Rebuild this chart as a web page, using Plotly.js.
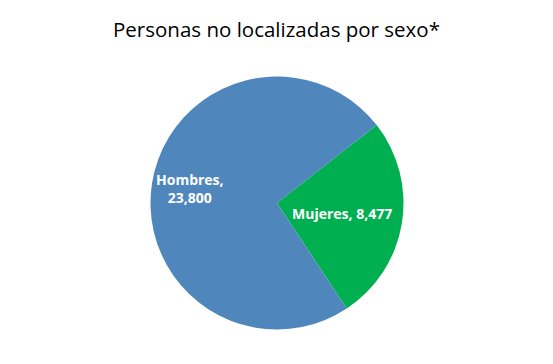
<!DOCTYPE html>
<html>
<head>
<meta charset="utf-8">
<script src="https://cdn.plot.ly/plotly-3.0.1.min.js"></script>
<style>html,body{margin:0;padding:0;background:#fff;}#chart{width:553px;height:364px;}</style>
</head>
<body>
<div id="chart"></div>
<script>
const categories = ["Mujeres", "Hombres"];
const values = [8477, 23800];
const labelText = ["Mujeres, 8,477", "Hombres,<br>23,800"];
const colors = ["#00B050", "#4F87BD"];

const W = 553, H = 364, cx = 277, cy = 203, R = 126.5;
const rotation = 52;
const labelRadius = [0.52, 0.70];

// label positions along each slice's bisector, from the data
const total = values.reduce((a, b) => a + b, 0);
let start = rotation;
const annotations = values.map((v, i) => {
  const span = v / total * 360;
  const mid = (start + span / 2) * Math.PI / 180;
  start += span;
  const r = R * labelRadius[i];
  const px = cx + r * Math.sin(mid);
  const py = cy - r * Math.cos(mid);
  return {
    text: labelText[i], x: px / W, y: 1 - py / H, xref: "paper", yref: "paper",
    xanchor: "center", yanchor: "middle", showarrow: false, align: "center",
    font: {family: "Open Sans, Arial, sans-serif", size: 14, color: "#ffffff", weight: "bold"}
  };
});

Plotly.newPlot("chart", [{
  type: "pie",
  labels: categories,
  values: values,
  textinfo: "none",
  sort: false,
  direction: "clockwise",
  rotation: rotation,
  marker: {colors: colors, line: {color: "#ffffff", width: 0}},
  hoverinfo: "none",
  domain: {x: [(cx - R) / W, (cx + R) / W], y: [(H - cy - R) / H, (H - cy + R) / H]}
}], {
  width: W, height: H,
  margin: {l: 0, r: 0, t: 0, b: 0},
  showlegend: false,
  paper_bgcolor: "#ffffff",
  annotations: annotations,
  title: {
    text: "Personas no localizadas por sexo*",
    font: {family: "Open Sans, Arial, sans-serif", size: 20.5, color: "#000000"},
    x: 0.5, xanchor: "center", xref: "paper",
    y: 1 - 30 / H, yanchor: "middle", yref: "container"
  }
}, {displayModeBar: false, staticPlot: true});
</script>
</body>
</html>
